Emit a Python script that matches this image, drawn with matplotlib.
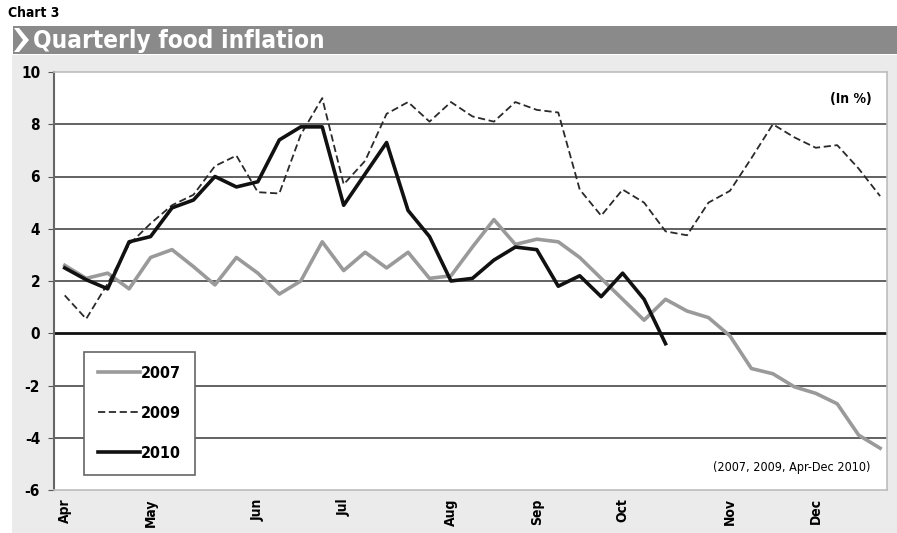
"""
Chart 3 - Quarterly food inflation, weekly y-o-y (2007, 2009, Apr-Dec 2010).
"""

import matplotlib
matplotlib.use("Agg")
import matplotlib.pyplot as plt
from matplotlib.lines import Line2D
from matplotlib.patches import Polygon, Rectangle

plt.rcParams["font.family"] = ["DejaVu Sans"]
plt.rcParams["font.weight"] = "bold"
plt.rcParams["font.stretch"] = "condensed"

# weekly values, Apr -> Dec
infl_2007 = [2.6, 2.1, 2.3, 1.7, 2.9, 3.2, 2.55, 1.85, 2.9, 2.3,
             1.5, 2.0, 3.5, 2.4, 3.1, 2.5, 3.1, 2.1, 2.2, 3.3,
             4.35, 3.4, 3.6, 3.5, 2.9, 2.1, 1.3, 0.5, 1.3, 0.85,
             0.6, -0.1, -1.35, -1.55, -2.05, -2.3, -2.7, -3.9, -4.4]
infl_2009 = [1.45, 0.55, 1.9, 3.4, 4.2, 4.9, 5.3, 6.4, 6.8, 5.4,
             5.35, 7.6, 9.0, 5.7, 6.6, 8.4, 8.85, 8.1, 8.85, 8.3,
             8.1, 8.85, 8.55, 8.45, 5.5, 4.5, 5.5, 5.0, 3.9, 3.75,
             5.0, 5.45, 6.7, 8.0, 7.5, 7.1, 7.2, 6.3, 5.25]
infl_2010 = [2.5, 2.05, 1.7, 3.5, 3.7, 4.8, 5.1, 6.0, 5.6, 5.8,
             7.4, 7.9, 7.9, 4.9, 6.1, 7.3, 4.7, 3.7, 2.0, 2.1,
             2.8, 3.3, 3.2, 1.8, 2.2, 1.4, 2.3, 1.3, -0.4]

month_weeks = [0, 4, 9, 13, 18, 22, 26, 31, 35]
month_labels = ["Apr", "May", "Jun", "Jul", "Aug", "Sep", "Oct", "Nov", "Dec"]
y_ticks = [-6, -4, -2, 0, 2, 4, 6, 8, 10]

W, H = 897, 533
fig = plt.figure(figsize=(W / 100, H / 100), dpi=100)
fig.patch.set_facecolor("white")


def px(x, y):
    return x / W, 1 - y / H


# grey panel behind the chart
x0, y0 = px(12, 533)
x1, y1 = px(897, 55)
fig.patches.append(Rectangle((x0, y0), x1 - x0, y1 - y0, transform=fig.transFigure,
                             facecolor="#ebebeb", edgecolor="none", zorder=-2))

# title banner with chevron
bx0, by0 = px(13, 54)
bx1, by1 = px(897, 26)
fig.patches.append(Rectangle((bx0, by0), bx1 - bx0, by1 - by0, transform=fig.transFigure,
                             facecolor="#8a8a8a", edgecolor="none", zorder=-1))
chev = [px(14, 28), px(19, 28), px(29, 40), px(19, 52), px(14, 52), px(23, 40)]
fig.patches.append(Polygon(chev, closed=True, transform=fig.transFigure,
                           facecolor="white", edgecolor="none", zorder=-1))
fig.text(*px(8, 13), "Chart 3", fontsize=10, fontweight="bold", va="center", ha="left")
fig.text(*px(33, 41), "Quarterly food inflation", fontsize=17.5, fontweight="heavy",
         color="white", va="center", ha="left")

ax = fig.add_axes([54 / W, 1 - 490 / H, (887 - 54) / W, (490 - 72) / H])
ax.set_zorder(2)
ax.set_facecolor("white")

for v in y_ticks[1:-1]:
    if v == 0:
        ax.axhline(v, color="#111111", lw=2.0, zorder=1)
    else:
        ax.axhline(v, color="#555555", lw=1.3, zorder=1)

ax.plot(range(len(infl_2007)), infl_2007, color="#9a9a9a", lw=2.6, zorder=2)
ax.plot(range(len(infl_2009)), infl_2009, color="#2a2a2a", lw=1.3,
        dashes=(4, 2), zorder=3)
ax.plot(range(len(infl_2010)), infl_2010, color="#111111", lw=2.6, zorder=4)

ax.set_xlim(-0.5, 38.32)
ax.set_ylim(-6, 10)
ax.set_yticks(y_ticks)
ax.set_yticklabels([str(v) for v in y_ticks], fontsize=11, fontweight="bold")
ax.set_xticks(month_weeks)
ax.set_xticklabels(month_labels, rotation=90, fontsize=10, fontweight="bold")
ax.tick_params(axis="x", length=0, pad=6)
ax.tick_params(axis="y", length=4, color="#555555", pad=6)
for side in ["top", "right", "bottom"]:
    ax.spines[side].set_color("#bdbdbd")
    ax.spines[side].set_linewidth(1.2)
ax.spines["left"].set_color("#666666")
ax.spines["left"].set_linewidth(1.5)

ax.text(0.982, 0.935, "(In %)", transform=ax.transAxes, ha="right", va="center",
        fontsize=10, fontweight="bold")
ax.text(0.98, 0.055, "(2007, 2009, Apr-Dec 2010)", transform=ax.transAxes,
        ha="right", va="center", fontsize=9, fontweight="normal")

handles = [Line2D([], [], color="#9a9a9a", lw=2.6),
           Line2D([], [], color="#2a2a2a", lw=1.3, dashes=(4, 2)),
           Line2D([], [], color="#111111", lw=2.6)]
leg = ax.legend(handles, ["2007", "2009", "2010"], loc="lower left",
                bbox_to_anchor=(0.036, 0.036), frameon=True, fancybox=False,
                edgecolor="#666666", framealpha=1, fontsize=11.5,
                handlelength=2.6, handletextpad=0.05, labelspacing=1.55,
                borderpad=0.9, borderaxespad=0)
leg.get_frame().set_linewidth(1.2)
leg.set_zorder(5)

fig.savefig("out.png", dpi=100)
